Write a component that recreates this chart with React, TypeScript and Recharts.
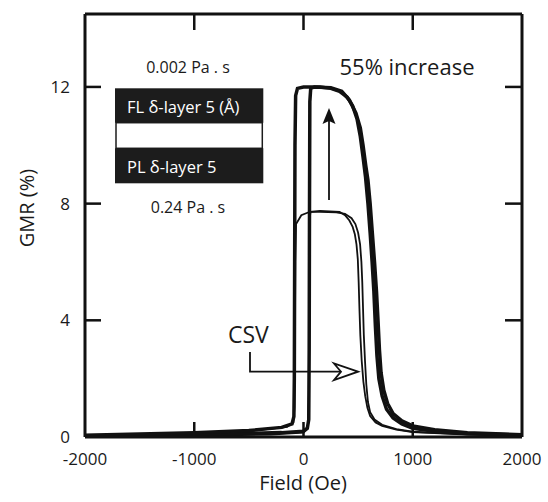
import React from 'react';
import { LineChart, Line, XAxis, YAxis, ReferenceLine } from 'recharts';

const FONT = '"Open Sans", "Noto Sans", sans-serif';
const INK = '#111';
const TEXT = '#1a1a1a';

// Field axis ticks (Oe) and GMR axis ticks (%)
const fieldTicks = [-2000, -1000, 0, 1000, 2000];
const fieldInnerTicks = [-1000, 0, 1000];
const gmrTicks = [0, 4, 8, 12];
const gmrInnerTicks = [4, 8, 12];

const X_MIN = -2000;
const X_MAX = 2000;
const Y_MIN = 0;
const Y_MAX = 14.5;

// Large loop (0.002 Pa·s), ascending field sweep
const bigUpField = [-2000, -1500, -1000, -500, -200, 0, 35, 48, 52, 55, 58, 66, 100, 250, 350, 420, 460, 480, 520, 545, 570, 590, 610, 630, 650, 668, 682, 695, 710, 735, 770, 820, 900, 1000, 1200, 1500, 2000];
const bigUpGmr = [0.04, 0.06, 0.08, 0.12, 0.15, 0.2, 0.3, 0.6, 3, 8, 11.5, 11.95, 12.0, 11.97, 11.85, 11.55, 11.25, 11.1, 10.6, 10.0, 9.3, 8.8, 8.0, 7.0, 6.0, 5.0, 4.0, 3.0, 2.2, 1.6, 1.15, 0.8, 0.55, 0.38, 0.25, 0.15, 0.08];

// Large loop, descending field sweep
const bigDownField = [2000, 1500, 1200, 1000, 900, 820, 760, 720, 690, 672, 658, 644, 628, 610, 590, 568, 545, 520, 490, 450, 400, 330, 250, 150, 0, -55, -72, -78, -81, -84, -88, -105, -200, -500, -1000, -1500, -2000];
const bigDownGmr = [0.06, 0.12, 0.2, 0.3, 0.45, 0.65, 0.95, 1.4, 2.0, 2.8, 3.8, 5.0, 6.0, 7.0, 8.0, 8.9, 9.6, 10.3, 10.9, 11.35, 11.65, 11.85, 11.95, 12.0, 12.0, 11.95, 11.7, 10, 6, 2, 0.7, 0.45, 0.33, 0.22, 0.15, 0.1, 0.06];

// Small loop (0.24 Pa·s), ascending field sweep
const smallUpField = [-2000, -1000, -300, 0, 40, 50, 54, 57, 64, 150, 330, 380, 420, 450, 470, 485, 497, 505, 512, 520, 533, 548, 565, 585, 610, 660, 720, 850, 1000, 1500, 2000];
const smallUpGmr = [0.02, 0.04, 0.08, 0.15, 0.3, 1.5, 5, 7.5, 7.72, 7.75, 7.72, 7.6, 7.42, 7.2, 6.95, 6.6, 6.1, 5.3, 4.4, 3.5, 2.6, 1.9, 1.4, 1.0, 0.72, 0.5, 0.38, 0.25, 0.17, 0.08, 0.04];

// Small loop, descending field sweep
const smallDownField = [2000, 1500, 1000, 850, 720, 650, 610, 590, 575, 563, 552, 545, 538, 530, 518, 500, 475, 440, 380, 300, 150, 58, -20, -68, -75, -79, -83, -92, -150, -500, -1000, -2000];
const smallDownGmr = [0.05, 0.09, 0.18, 0.27, 0.42, 0.6, 0.85, 1.2, 1.8, 2.6, 3.5, 4.4, 5.3, 6.0, 6.6, 7.0, 7.3, 7.5, 7.65, 7.7, 7.72, 7.72, 7.6, 7.3, 6, 3, 1, 0.5, 0.35, 0.2, 0.12, 0.06];

const toPoints = (xs: number[], ys: number[]) => xs.map((x, i) => ({ x, y: ys[i] }));

const bigUp = toPoints(bigUpField, bigUpGmr);
const bigDown = toPoints(bigDownField, bigDownGmr);
const smallUp = toPoints(smallUpField, smallUpGmr);
const smallDown = toPoints(smallDownField, smallDownGmr);

// layout
const W = 548;
const H = 502;
const M_TOP = 14;
const M_RIGHT = 26;
const X_AXIS_H = 65;
const Y_AXIS_W = 85;
const PLOT_TOP = M_TOP;
const PLOT_BOTTOM = H - X_AXIS_H;
const PLOT_LEFT = Y_AXIS_W;
const PLOT_RIGHT = W - M_RIGHT;

// same linear mapping the chart axes use (for the inward frame ticks)
const sx = (v: number) => PLOT_LEFT + ((v - X_MIN) / (X_MAX - X_MIN)) * (PLOT_RIGHT - PLOT_LEFT);
const sy = (v: number) => PLOT_BOTTOM - ((v - Y_MIN) / (Y_MAX - Y_MIN)) * (PLOT_BOTTOM - PLOT_TOP);

const tickStyle = { fontSize: 17, fill: TEXT, fontFamily: FONT };

export default function App() {
  return (
    <div style={{ position: 'absolute', left: 0, top: 0, width: W, height: H, background: '#fff' }}>
      <LineChart width={W} height={H} margin={{ top: M_TOP, right: M_RIGHT, bottom: 0, left: 0 }}>
        <XAxis
          type="number"
          dataKey="x"
          domain={[X_MIN, X_MAX]}
          ticks={fieldTicks}
          interval={0}
          allowDataOverflow
          height={X_AXIS_H}
          axisLine={{ stroke: INK, strokeWidth: 3 }}
          tickLine={false}
          tickSize={0}
          tickMargin={16}
          tick={tickStyle}
        />
        <YAxis
          type="number"
          domain={[Y_MIN, Y_MAX]}
          ticks={gmrTicks}
          interval={0}
          allowDataOverflow
          width={Y_AXIS_W}
          axisLine={{ stroke: INK, strokeWidth: 3 }}
          tickLine={false}
          tickSize={0}
          tickMargin={15}
          tick={tickStyle}
        />
        {/* frame: top and right */}
        <ReferenceLine y={Y_MAX} stroke={INK} strokeWidth={3} ifOverflow="visible" />
        <ReferenceLine x={X_MAX} stroke={INK} strokeWidth={3} ifOverflow="visible" />
        <Line data={smallUp} dataKey="y" type="linear" stroke={INK} strokeWidth={1.8} dot={false} isAnimationActive={false} />
        <Line data={smallDown} dataKey="y" type="linear" stroke={INK} strokeWidth={1.8} dot={false} isAnimationActive={false} />
        <Line data={bigUp} dataKey="y" type="linear" stroke={INK} strokeWidth={3.5} dot={false} isAnimationActive={false} />
        <Line data={bigDown} dataKey="y" type="linear" stroke={INK} strokeWidth={3.5} dot={false} isAnimationActive={false} />
      </LineChart>
      <svg
        width={W}
        height={H}
        style={{ position: 'absolute', left: 0, top: 0, pointerEvents: 'none', zIndex: 2 }}
        fontFamily={FONT}
      >
        {fieldInnerTicks.map((t) => (
          <rect key={`xb${t}`} x={sx(t) - 1.25} y={PLOT_BOTTOM - 15} width={2.5} height={15} fill={INK} />
        ))}
        {fieldInnerTicks.map((t) => (
          <rect key={`xt${t}`} x={sx(t) - 1.25} y={PLOT_TOP} width={2.5} height={16} fill={INK} />
        ))}
        {gmrInnerTicks.map((t) => (
          <rect key={`yl${t}`} x={PLOT_LEFT} y={sy(t) - 1.25} width={16} height={2.5} fill={INK} />
        ))}
        {gmrInnerTicks.map((t) => (
          <rect key={`yr${t}`} x={PLOT_RIGHT - 17} y={sy(t) - 1.25} width={17} height={2.5} fill={INK} />
        ))}

        <text x={188} y={73} textAnchor="middle" fontSize={16} fill={TEXT}>0.002 Pa . s</text>
        <text x={188} y={212.5} textAnchor="middle" fontSize={16} fill={TEXT}>0.24 Pa . s</text>
        <text x={407} y={75} textAnchor="middle" fontSize={22} fill={TEXT}>55% increase</text>

        <rect x={115} y={88.3} width={148.3} height={34.4} fill="#1c1c1c" />
        <rect x={116} y={122.7} width={146.3} height={25.6} fill="#fff" stroke="#1c1c1c" strokeWidth={1.5} />
        <rect x={115} y={148.3} width={148.3} height={35} fill="#1c1c1c" />
        <text x={127} y={113} fontSize={16.5} fill="#fff">FL δ-layer  5 (Å)</text>
        <text x={127} y={172.5} fontSize={16.5} fill="#fff">PL δ-layer  5</text>

        <line x1={329} y1={200} x2={329} y2={118} stroke={INK} strokeWidth={1.8} />
        <path d="M329,108 L335.5,124 L329,121 L322.5,124 Z" fill={INK} />

        <text x={228} y={343} fontSize={23} fill={TEXT}>CSV</text>
        <path d="M250,352 V371.7 H345" fill="none" stroke={INK} strokeWidth={1.8} />
        <path d="M358,371.7 L334,363.5 L341,371.7 L334,380 Z" fill="#fff" stroke={INK} strokeWidth={1.8} strokeLinejoin="miter" />

        <text x={303} y={490} textAnchor="middle" fontSize={20} fill={TEXT}>Field (Oe)</text>
        <text x={34} y={208} textAnchor="middle" fontSize={20} fill={TEXT} transform="rotate(-90 34 208)">GMR (%)</text>
      </svg>
    </div>
  );
}
